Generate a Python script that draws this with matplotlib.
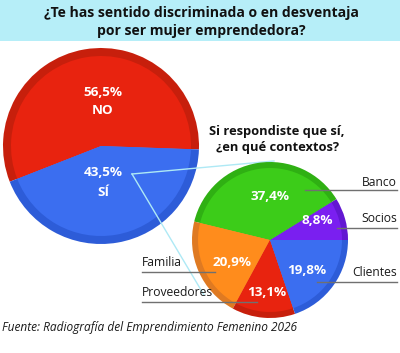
import matplotlib.pyplot as plt
from matplotlib import patches

H = 353
W = 400

main_labels = ["NO", "SÍ"]
main_values = [56.5, 43.5]
main_colors = ["#e8230f", "#3b6ef0"]
main_dark = ["#c71f0c", "#2d5cd8"]

ctx_labels = ["Socios", "Banco", "Familia", "Proveedores", "Clientes"]
ctx_values = [8.8, 37.4, 20.9, 13.1, 19.8]
ctx_colors = ["#7a1ff0", "#3ccc19", "#ff8c1c", "#e8230f", "#3b6ef0"]
ctx_dark = ["#6317d2", "#2fb013", "#df7a22", "#c71f0c", "#2d5cd8"]

title = "¿Te has sentido discriminada o en desventaja\npor ser mujer emprendedora?"
subtitle = "Si respondiste que sí,\n¿en qué contextos?"
source = "Fuente: Radiografía del Emprendimiento Femenino 2026"

plt.rcParams['font.family'] = ['Open Sans', 'DejaVu Sans']

fig = plt.figure(figsize=(4.0, 3.53), dpi=100)
ax = fig.add_axes([0, 0, 1, 1])


def fmt(v):
    return f"{v:.1f}".replace(".", ",") + "%"


def ringed_pie(values, colors, dark, center, radius, ring, start, z):
    cx, cy = center
    ax.pie(values, colors=dark, startangle=start, counterclock=True,
           center=(cx, H - cy), radius=radius,
           wedgeprops=dict(linewidth=0, zorder=z))
    ax.pie(values, colors=colors, startangle=start, counterclock=True,
           center=(cx, H - cy), radius=radius - ring,
           wedgeprops=dict(linewidth=0, zorder=z + 0.1))


# banner
ax.add_patch(patches.FancyBboxPatch((0, H - 41), 430, 60,
             boxstyle="round,pad=0,rounding_size=12",
             facecolor="#b6eef8", edgecolor="none", zorder=0))
ax.add_patch(patches.Rectangle((0, H - 41), 20, 20, facecolor="#b6eef8",
                               edgecolor="none", zorder=0))
ax.text(201, H - 22, title, ha="center", va="center", fontsize=10.1,
        fontweight="bold", linespacing=1.45, color="#111111")

# main pie
ringed_pie(main_values, main_colors, main_dark, (101, 146), 98, 8, -2, 1)
ax.text(103, H - 92, fmt(main_values[0]), ha="center", va="center",
        color="white", fontsize=9.7, fontweight="bold", zorder=5)
ax.text(103, H - 111, main_labels[0], ha="center", va="center",
        color="white", fontsize=9.7, fontweight="bold", zorder=5)
ax.text(103, H - 173, fmt(main_values[1]), ha="center", va="center",
        color="white", fontsize=9.7, fontweight="bold", zorder=5)
ax.text(103, H - 192, main_labels[1], ha="center", va="center",
        color="white", fontsize=9.7, fontweight="bold", zorder=5)

# connector lines
ax.plot([132, 274], [H - 174, H - 161], color="#aee9f5", lw=1, zorder=3)
ax.plot([132, 204], [H - 174, H - 295], color="#aee9f5", lw=1, zorder=3)

# context pie
ringed_pie(ctx_values, ctx_colors, ctx_dark, (270, 240), 78, 6, 0, 6)
ax.text(277, H - 139, subtitle, ha="center", va="center", fontsize=9.3,
        fontweight="bold", linespacing=1.3, color="#111111")

pct_pos = [(317, 220), (270, 197), (232, 263), (267, 292), (307, 271)]
for v, (x, y) in zip(ctx_values, pct_pos):
    ax.text(x, H - y, fmt(v), ha="center", va="center", color="white",
            fontsize=9.7, fontweight="bold", zorder=10)

# labels with leader lines
name_pos = {"Banco": (397, 182, "right"), "Socios": (397, 219, "right"),
            "Clientes": (397, 273, "right"), "Familia": (142, 263, "left"),
            "Proveedores": (142, 293, "left")}
leader = {"Banco": (305, 397, 190), "Socios": (337, 397, 228),
          "Clientes": (317, 397, 282), "Familia": (142, 215, 272),
          "Proveedores": (142, 257, 302)}
for name in ctx_labels:
    x, y, ha = name_pos[name]
    ax.text(x, H - y, name, ha=ha, va="center", fontsize=8.7,
            color="#1a1a1a", zorder=12)
    x0, x1, ly = leader[name]
    ax.plot([x0, x1], [H - ly, H - ly], color="#707070", lw=1, zorder=11)

ax.text(2, H - 328, source, ha="left", va="center", fontsize=8.6,
        style="italic", color="#1a1a1a")

ax.set_xlim(0, W)
ax.set_ylim(0, H)
ax.set_aspect("auto")
ax.axis("off")
fig.savefig("out.png", dpi=100, facecolor="white")
